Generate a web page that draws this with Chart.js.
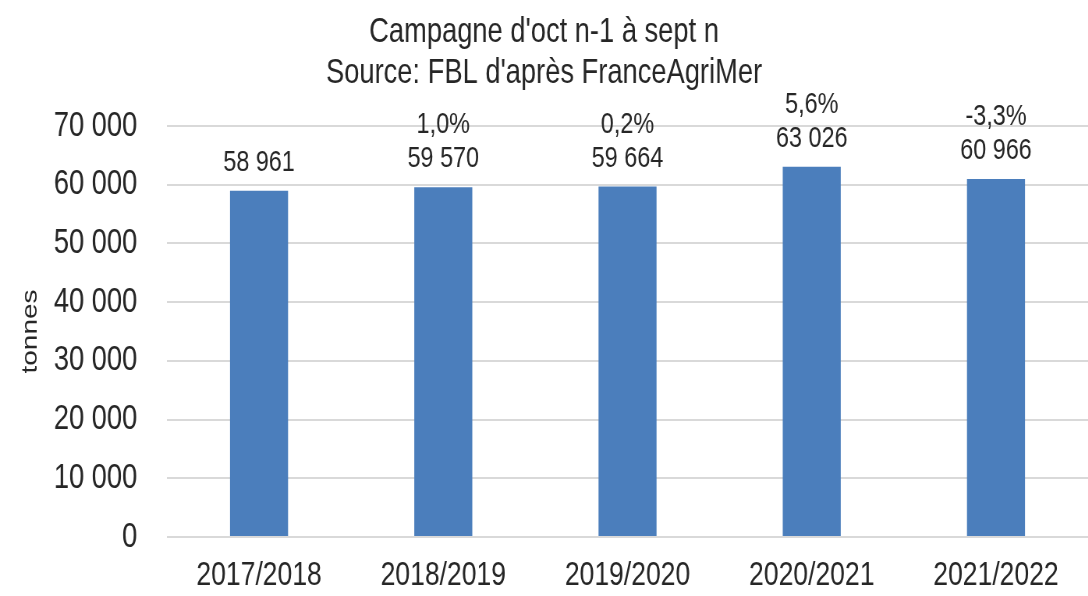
<!DOCTYPE html>
<html lang="fr">
<head>
<meta charset="UTF-8">
<title>Campagne d'oct n-1 à sept n</title>
<script src="https://cdn.jsdelivr.net/npm/chart.js"></script>
<style>
  html, body { margin: 0; padding: 0; background: #fff; overflow: hidden; }
  /* the source picture has condensed lettering: draw wider, then squeeze horizontally */
  #wrap { width: 1395px; height: 596px; position: relative; transform: scaleX(0.78); transform-origin: 0 0; }
</style>
</head>
<body>
<div id="wrap"><canvas id="chart"></canvas></div>
<script>
// data
const campagnes = ['2017/2018', '2018/2019', '2019/2020', '2020/2021', '2021/2022'];
const tonnes = [58961, 59570, 59664, 63026, 60966];
const variations = ['', '1,0%', '0,2%', '5,6%', '-3,3%'];
const yTicks = [0, 10000, 20000, 30000, 40000, 50000, 60000, 70000];
const titleLines = ["Campagne d'oct n-1 à sept n", "Source: FBL d'après FranceAgriMer"];

const FONT = "'Liberation Sans', Arial, sans-serif";
const TEXT = '#262626';

// 58961 -> "58 961"
function fmt(v) {
    return String(v).replace(/\B(?=(\d{3})+(?!\d))/g, ' ');
}

// value + variation labels above the bars
const barLabels = {
    id: 'barLabels',
    afterDatasetsDraw(chart) {
        const ctx = chart.ctx;
        const meta = chart.getDatasetMeta(0);
        ctx.save();
        ctx.font = '30px ' + FONT;
        ctx.fillStyle = TEXT;
        ctx.textAlign = 'center';
        ctx.textBaseline = 'middle';
        meta.data.forEach(function(bar, i) {
            ctx.fillText(fmt(tonnes[i]), bar.x, bar.y - 28);
            if (variations[i]) ctx.fillText(variations[i], bar.x, bar.y - 62);
        });
        ctx.restore();
    }
};

new Chart(document.getElementById('chart'), {
    type: 'bar',
    data: {
        labels: campagnes,
        datasets: [{
            data: tonnes,
            backgroundColor: '#4b7ebc',
            borderWidth: 0,
            categoryPercentage: 1,
            barPercentage: 0.315
        }]
    },
    options: {
        responsive: true,
        maintainAspectRatio: false,
        animation: false,
        layout: { padding: 0 },
        plugins: {
            legend: { display: false },
            tooltip: { enabled: false },
            title: {
                display: true,
                text: titleLines,
                color: TEXT,
                font: { family: FONT, size: 35, weight: 'normal', lineHeight: 1.17 },
                padding: { top: 12, bottom: 32 }
            }
        },
        scales: {
            x: {
                afterFit: function(scale) { scale.height = 54; },
                grid: { display: false, drawTicks: false },
                border: { display: false },
                ticks: {
                    color: TEXT,
                    padding: 18,
                    font: { family: FONT, size: 34 }
                }
            },
            y: {
                min: yTicks[0],
                max: yTicks[yTicks.length - 1],
                afterBuildTicks: function(scale) {
                    scale.ticks = yTicks.map(function(v) { return { value: v }; });
                },
                afterFit: function(scale) { scale.width = 214; },
                grid: { color: '#d9d9d9', lineWidth: 2, drawTicks: false },
                border: { display: false },
                ticks: {
                    color: TEXT,
                    padding: 38,
                    font: { family: FONT, size: 35 },
                    callback: function(v) { return fmt(v); }
                },
                title: {
                    display: true,
                    text: 'tonnes',
                    color: TEXT,
                    font: { family: FONT, size: 28 },
                    padding: { top: 22, bottom: 0 }
                }
            }
        }
    },
    plugins: [barLabels]
});
</script>
</body>
</html>
